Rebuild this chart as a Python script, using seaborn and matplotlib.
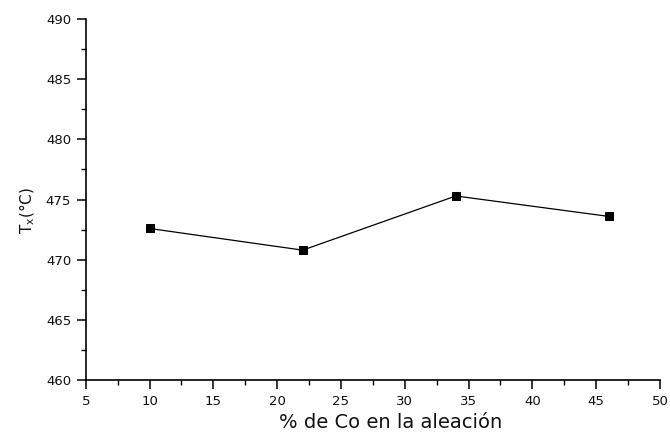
import matplotlib
matplotlib.use("Agg")
import matplotlib.pyplot as plt
from matplotlib.ticker import MultipleLocator
import seaborn as sns
import pandas as pd

# Cobalt content of the alloy (%) and crystallisation temperature Tx (°C)
co_pct = [10, 22, 34, 46]
tx_c = [472.6, 470.8, 475.3, 473.6]

df = pd.DataFrame({"co": co_pct, "tx": tx_c})

sns.set_theme(style="ticks")
plt.rcParams["font.family"] = ["DejaVu Sans"]
plt.rcParams["mathtext.fontset"] = "dejavusans"

fig = plt.figure(figsize=(6.7, 4.36), dpi=100)
ax = fig.add_axes([0.128, 0.128, 0.857, 0.8285])

sns.lineplot(data=df, x="co", y="tx", ax=ax, color="black", linewidth=0.9,
             marker="s", markersize=6, markeredgecolor="black",
             markerfacecolor="black")

ax.set_xlim(5, 50)
ax.set_ylim(460, 490)
ax.xaxis.set_major_locator(MultipleLocator(5))
ax.xaxis.set_minor_locator(MultipleLocator(2.5))
ax.yaxis.set_major_locator(MultipleLocator(5))
ax.yaxis.set_minor_locator(MultipleLocator(2.5))

for side in ("top", "right"):
    ax.spines[side].set_visible(False)
for side in ("left", "bottom"):
    ax.spines[side].set_linewidth(1.2)
    ax.spines[side].set_color("black")

ax.tick_params(which="major", direction="out", length=6.5, width=1.1,
               color="black", labelsize=9.5, labelcolor="#111111", pad=4)
ax.tick_params(which="minor", direction="out", length=3.5, width=1.0,
               color="black")

ax.set_xlabel("% de Co en la aleación", fontsize=14, color="#111111",
              labelpad=4)
ax.set_ylabel(r"T$_\mathregular{x}$(°C)", fontsize=11, color="#111111",
              labelpad=6)
# axis titles sit slightly off-centre
ax.xaxis.label.set_x(0.531)
ax.yaxis.label.set_y(0.47)

fig.savefig("out.png", dpi=100, facecolor="white")
